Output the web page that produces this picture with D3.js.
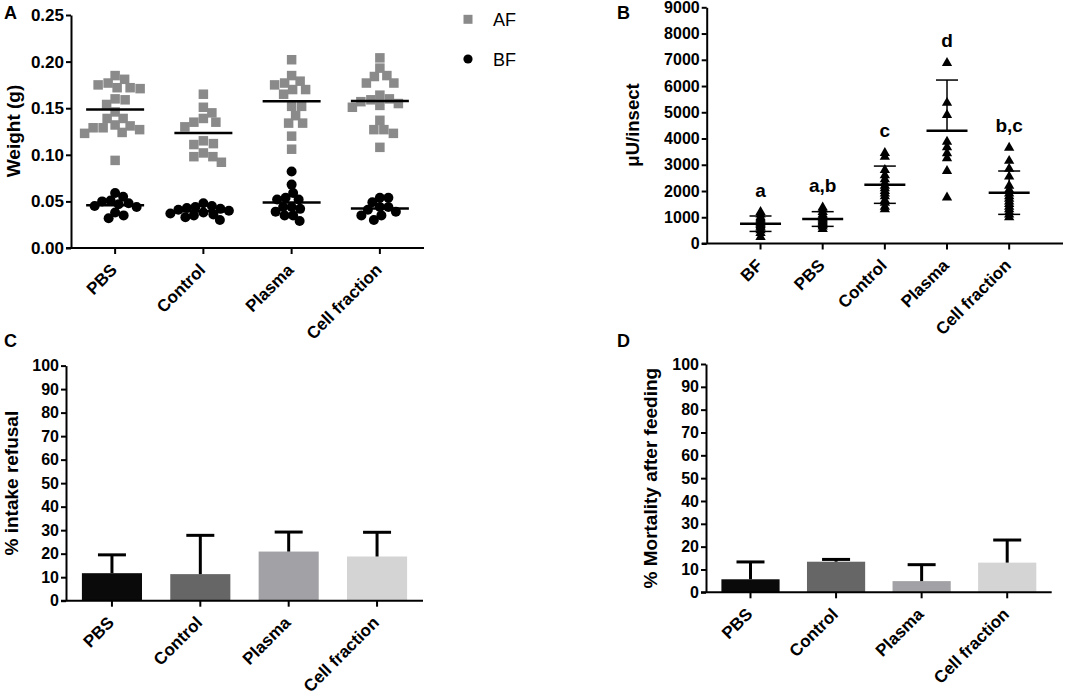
<!DOCTYPE html>
<html><head><meta charset="utf-8">
<script src="https://cdn.jsdelivr.net/npm/d3@7"></script>
<style>
html,body{margin:0;padding:0;background:#fff;}
svg{display:block;font-family:"Liberation Sans",Arial,Helvetica,sans-serif;}
</style></head><body>
<svg id="c" width="1065" height="697"></svg>
<script>
// ---------- DATA ----------
// Panel A: weight (g) per insect, after feeding (AF) and before feeding (BF)
const categoriesA = ["PBS", "Control", "Plasma", "Cell fraction"];
const afPBS = [0.185,0.181,0.177,0.175,0.172,0.172,0.171,0.160,0.159,0.154,0.146,0.139,0.139,0.132,0.131,0.129,0.129,0.127,0.124,0.123,0.094];
const afControl = [0.165,0.151,0.145,0.139,0.135,0.135,0.130,0.115,0.112,0.111,0.102,0.098,0.098,0.092];
const afPlasma = [0.202,0.185,0.179,0.177,0.175,0.170,0.170,0.165,0.152,0.152,0.142,0.134,0.134,0.120,0.106];
const afCell = [0.204,0.193,0.185,0.184,0.177,0.177,0.164,0.160,0.159,0.157,0.155,0.153,0.151,0.137,0.127,0.127,0.123,0.108];
const bfPBS = [0.059,0.055,0.051,0.050,0.048,0.047,0.045,0.044,0.038,0.035,0.032];
const bfControl = [0.048,0.045,0.044,0.043,0.042,0.041,0.040,0.038,0.037,0.036,0.035,0.033,0.030];
const bfPlasma = [0.082,0.068,0.059,0.054,0.052,0.052,0.044,0.044,0.042,0.039,0.035,0.035,0.029];
const bfCell = [0.054,0.054,0.049,0.044,0.044,0.041,0.039,0.035,0.035,0.030];
const ticksA = [0, 0.05, 0.10, 0.15, 0.20, 0.25];
const legendA = ["AF", "BF"];

// Panel B: µU/insect
const categoriesB = ["BF", "PBS", "Control", "Plasma", "Cell fraction"];
const bBF = [1200,1100,1000,950,900,850,800,750,700,650,600,500,400,250];
const bPBS = [1370,1300,1200,1100,1050,1000,950,900,850,800,750,700,650,550];
const bControl = [3450,3300,2800,2600,2450,2300,2200,2100,2000,1900,1800,1650,1550,1400,1300];
const bPlasma = [6880,5360,4900,3880,3670,3440,3250,2760,1750];
const bCell = [3650,3150,2850,2550,2200,2050,1900,1800,1700,1600,1500,1400,1300,1200,1100,1000];
const meanB = [754, 933, 2240, 4298, 1936];
const sdUpB = [294, 280, 710, 1930, 826];
const sdLowB = [294, 280, 710, 0, 826];
const lettersB = ["a", "a,b", "c", "d", "b,c"];
const ticksB = [0,1000,2000,3000,4000,5000,6000,7000,8000,9000];

// Panel C: % intake refusal
const categoriesC = ["PBS", "Control", "Plasma", "Cell fraction"];
const refusalMean = [11.7, 11.3, 20.9, 18.8];
const refusalSD = [7.8, 16.5, 8.3, 10.3];
// Panel D: % mortality after feeding
const mortalityMean = [5.7, 13.4, 4.9, 13.0];
const mortalitySD = [7.6, 1.0, 7.2, 9.9];
const ticksPct = [0,10,20,30,40,50,60,70,80,90,100];
const barColors = ["#0a0a0a", "#666666", "#a2a2a6", "#d4d4d4"];

// ---------- HELPERS ----------
const svg = d3.select("#c");

function swarm(values, dist, cx, y) {
  const pts = values.map(v => ({v: v, y: y(v)})).sort((a, b) => b.v - a.v);
  const placed = [];
  pts.forEach(p => {
    let best = null;
    for (let k = 0; k < 400 && best === null; k++) {
      const offs = k === 0 ? [0] : [k * 0.5, -k * 0.5];
      for (const o of offs) {
        if (placed.every(q => (q.dx - o) ** 2 + (q.y - p.y) ** 2 >= dist * dist)) { best = o; break; }
      }
    }
    p.dx = best;
    placed.push(p);
  });
  return placed.map(p => ({v: p.v, x: cx + p.dx, y: p.y}));
}

function yAxis(x, scale, ticks, fmt, fs) {
  const g = svg.append("g").attr("transform", `translate(${x},0)`)
    .call(d3.axisLeft(scale).tickValues(ticks).tickFormat(fmt).tickSize(5).tickSizeOuter(0).tickPadding(2));
  g.select(".domain").attr("stroke", "#000").attr("stroke-width", 2);
  g.selectAll(".tick line").attr("stroke", "#000").attr("stroke-width", 2);
  g.selectAll(".tick text").attr("fill", "#000").attr("font-weight", "bold").attr("font-size", fs)
    .attr("font-family", '"Liberation Sans",Arial,sans-serif');
  return g;
}

function xAxis(scale, yPos, x0, x1, fs) {
  const g = svg.append("g");
  g.append("line").attr("x1", x0 - 5).attr("x2", x1).attr("y1", yPos).attr("y2", yPos)
    .attr("stroke", "#000").attr("stroke-width", 2);
  scale.domain().forEach(c => {
    const x = scale(c);
    g.append("line").attr("x1", x).attr("x2", x).attr("y1", yPos).attr("y2", yPos + 6)
      .attr("stroke", "#000").attr("stroke-width", 2);
    g.append("text").attr("transform", `translate(${x + 3},${yPos + 23}) rotate(-45)`)
      .attr("text-anchor", "end").attr("font-weight", "bold").attr("font-size", fs).text(c);
  });
}

function yTitle(text, x, yc, fs) {
  svg.append("text").attr("transform", `translate(${x},${yc}) rotate(-90)`)
    .attr("text-anchor", "middle").attr("font-weight", "bold").attr("font-size", fs).text(text);
}

function panelLetter(t, x, y) {
  svg.append("text").attr("x", x).attr("y", y).attr("font-weight", "bold").attr("font-size", 18).text(t);
}

// ---------- PANEL A ----------
const xA = d3.scalePoint().domain(categoriesA).range([71, 424]).padding(0.5);
const yA = d3.scaleLinear().domain([0, 0.25]).range([248, 15]);
const afAll = [afPBS, afControl, afPlasma, afCell];
const bfAll = [bfPBS, bfControl, bfPlasma, bfCell];

categoriesA.forEach((c, i) => {
  const cx = xA(c);
  const sq = swarm(afAll[i], 10, cx, yA);
  svg.append("g").selectAll("rect").data(sq).join("rect")
    .attr("x", d => d.x - 4.75).attr("y", d => d.y - 4.75).attr("width", 9.5).attr("height", 9.5)
    .attr("fill", "#8a8a8a");
  const ci = swarm(bfAll[i], 8.5, cx, yA);
  svg.append("g").selectAll("circle").data(ci).join("circle")
    .attr("cx", d => d.x).attr("cy", d => d.y).attr("r", 5).attr("fill", "#000");
  [d3.mean(afAll[i]), d3.mean(bfAll[i])].forEach(m => {
    svg.append("line").attr("x1", cx - 29).attr("x2", cx + 29).attr("y1", yA(m)).attr("y2", yA(m))
      .attr("stroke", "#000").attr("stroke-width", 2.5);
  });
});
yAxis(71, yA, ticksA, d3.format(".2f"), 17);
xAxis(xA, 248, 71, 424, 17);
yTitle("Weight (g)", 19.5, 131, 19);
panelLetter("A", 4, 19);
// legend
svg.append("rect").attr("x", 468 - 4.5).attr("y", 19.3 - 4.5).attr("width", 9).attr("height", 9).attr("fill", "#8a8a8a");
svg.append("circle").attr("cx", 468).attr("cy", 59).attr("r", 4.6).attr("fill", "#000");
svg.append("text").attr("x", 493).attr("y", 25.5).attr("font-size", 18).text(legendA[0]);
svg.append("text").attr("x", 493).attr("y", 65.5).attr("font-size", 18).text(legendA[1]);

// ---------- PANEL B ----------
const xB = d3.scalePoint().domain(categoriesB).range([706.7, 1063]).padding(0.866);
const yB = d3.scaleLinear().domain([0, 9000]).range([243.5, 7.3]);
const bAll = [bBF, bPBS, bControl, bPlasma, bCell];
const tri = d3.symbol().type(d3.symbolTriangle).size(46);
categoriesB.forEach((c, i) => {
  const cx = xB(c);
  svg.append("g").selectAll("path").data(bAll[i]).join("path")
    .attr("d", tri).attr("transform", v => `translate(${cx},${yB(v)})`).attr("fill", "#000");
  const m = meanB[i];
  const top = m + sdUpB[i], bot = m - sdLowB[i];
  svg.append("line").attr("x1", cx).attr("x2", cx).attr("y1", yB(bot)).attr("y2", yB(top))
    .attr("stroke", "#000").attr("stroke-width", 1.5);
  svg.append("line").attr("x1", cx - 11).attr("x2", cx + 11).attr("y1", yB(top)).attr("y2", yB(top))
    .attr("stroke", "#000").attr("stroke-width", 1.5);
  if (sdLowB[i] > 0) {
    svg.append("line").attr("x1", cx - 11).attr("x2", cx + 11).attr("y1", yB(bot)).attr("y2", yB(bot))
      .attr("stroke", "#000").attr("stroke-width", 1.5);
  }
  svg.append("line").attr("x1", cx - 20.5).attr("x2", cx + 20.5).attr("y1", yB(m)).attr("y2", yB(m))
    .attr("stroke", "#000").attr("stroke-width", 2.5);
  svg.append("text").attr("x", cx).attr("y", yB(d3.max(bAll[i])) - 22 + 6.5)
    .attr("text-anchor", "middle").attr("font-weight", "bold").attr("font-size", 19).text(lettersB[i]);
});
yAxis(706.7, yB, ticksB, d3.format("d"), 16);
xAxis(xB, 243.5, 706.7, 1063, 17);
yTitle("μU/insect", 639, 125, 18.5);
panelLetter("B", 617, 19);

// ---------- PANEL C & D ----------
function barPanel(x0, x1, y0, y100, means, sds, title, titleX, letter, letterX) {
  const x = d3.scalePoint().domain(categoriesC).range([x0, x1]).padding(0.52);
  const y = d3.scaleLinear().domain([0, 100]).range([y0, y100]);
  const bw = x.step() * 0.68;
  categoriesC.forEach((c, i) => {
    const cx = x(c);
    svg.append("rect").attr("x", cx - bw / 2).attr("y", y(means[i])).attr("width", bw)
      .attr("height", y(0) - y(means[i])).attr("fill", barColors[i]);
    const top = means[i] + sds[i];
    svg.append("line").attr("x1", cx).attr("x2", cx).attr("y1", y(means[i])).attr("y2", y(top))
      .attr("stroke", "#000").attr("stroke-width", 3);
    svg.append("line").attr("x1", cx - 14).attr("x2", cx + 14).attr("y1", y(top)).attr("y2", y(top))
      .attr("stroke", "#000").attr("stroke-width", 3);
  });
  yAxis(x0, y, ticksPct, d3.format("d"), 16);
  xAxis(x, y0, x0, x1, 17);
  yTitle(title, titleX, (y0 + y100) / 2, 19);
  panelLetter(letter, letterX, 347);
}
barPanel(66, 423, 600.7, 365.6, refusalMean, refusalSD, "% intake refusal", 18, "C", 4);
barPanel(706, 1051.7, 592.3, 364, mortalityMean, mortalitySD, "% Mortality after feeding", 657, "D", 617);
</script>
</body></html>
